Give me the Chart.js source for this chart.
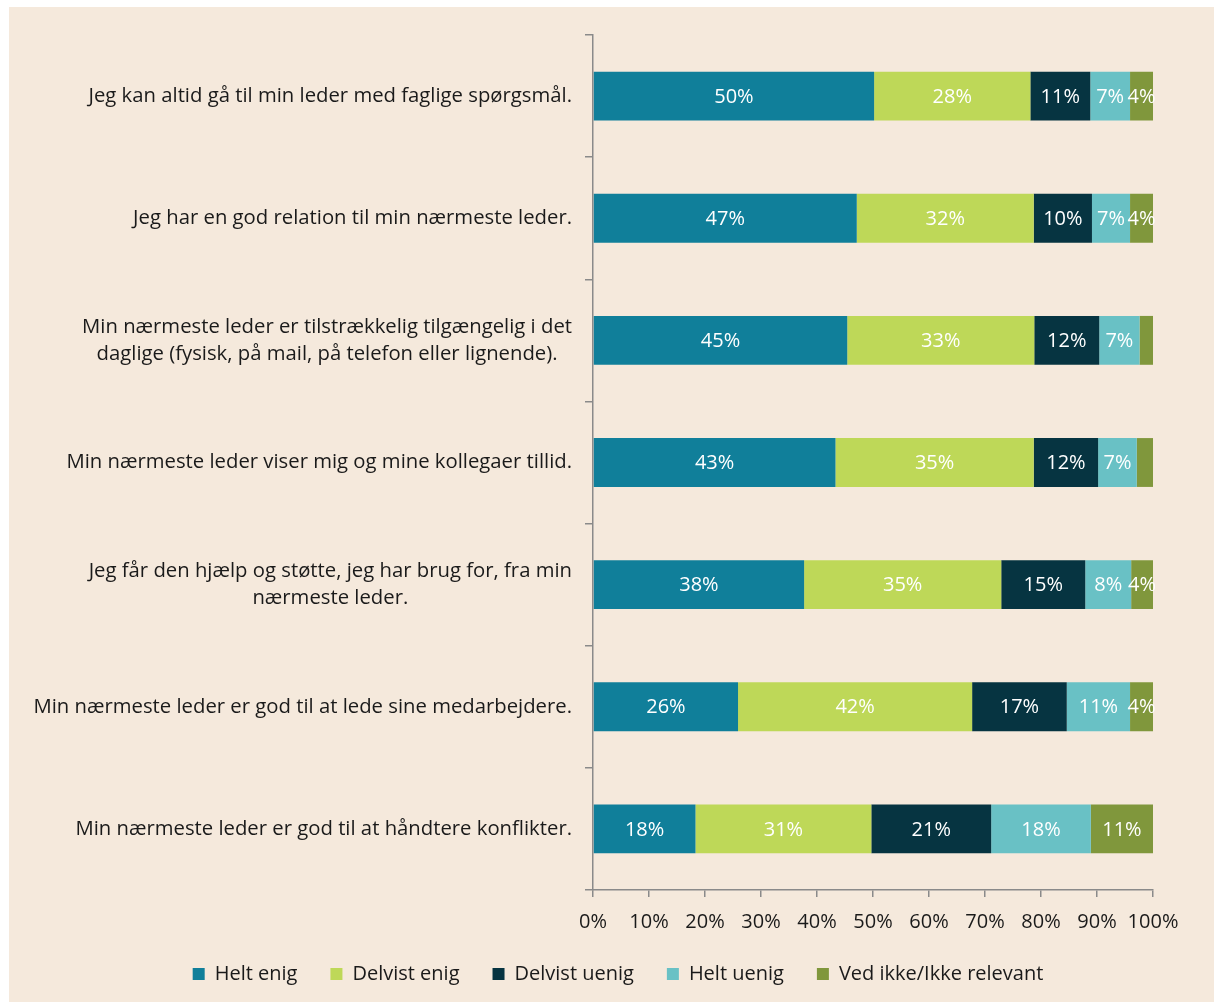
<!DOCTYPE html>
<html>
<head>
<meta charset="utf-8">
<script src="https://cdn.jsdelivr.net/npm/chart.js@4.4.0/dist/chart.umd.min.js"></script>
<style>
  html, body { margin: 0; padding: 0; background: #fff; }
  .frame { position: absolute; left: 9px; top: 7px; width: 1205px; height: 995px; background: #f5e9dc; }
</style>
</head>
<body>
<div class="frame"><canvas id="myChart" width="1205" height="995"></canvas></div>
<script>
// ------------------   DATA   ----------------
const categories = [
  ['Jeg kan altid gå til min leder med faglige spørgsmål.'],
  ['Jeg har en god relation til min nærmeste leder.'],
  ['Min nærmeste leder er tilstrækkelig tilgængelig i det', 'daglige (fysisk, på mail, på telefon eller lignende).'],
  ['Min nærmeste leder viser mig og mine kollegaer tillid.'],
  ['Jeg får den hjælp og støtte, jeg har brug for, fra min', 'nærmeste leder.'],
  ['Min nærmeste leder er god til at lede sine medarbejdere.'],
  ['Min nærmeste leder er god til at håndtere konflikter.'],
];
const seriesNames = ['Helt enig', 'Delvist enig', 'Delvist uenig', 'Helt uenig', 'Ved ikke/Ikke relevant'];
const heltEnig = [50.2, 47.1, 45.4, 43.3, 37.7, 25.9, 18.3];
const delvistEnig = [27.9, 31.6, 33.4, 35.4, 35.2, 41.8, 31.4];
const delvistUenig = [10.7, 10.4, 11.6, 11.5, 15.0, 16.9, 21.4];
const heltUenig = [7.1, 6.8, 7.2, 6.9, 8.2, 11.3, 17.8];
const vedIkke = [4.1, 4.1, 2.4, 2.9, 3.9, 4.1, 11.1];
const xTickValues = [0, 10, 20, 30, 40, 50, 60, 70, 80, 90, 100];

const colors = ['#107f9a', '#bed858', '#063441', '#69c1c5', '#80973c'];
const FONT = "'Open Sans', sans-serif";
const textColor = '#1a1a1a';
const axisColor = '#8a8a8a';

// ------------   PLUGINS   ----------------------
// y labels: block right-aligned to the axis, lines centered inside the block
const yLabelsPlugin = {
  id: 'yLabels',
  afterDraw(chart) {
    const { ctx } = chart;
    const yScale = chart.scales.y;
    ctx.save();
    ctx.font = '20.3px ' + FONT;
    ctx.fillStyle = textColor;
    ctx.textAlign = 'center';
    ctx.textBaseline = 'middle';
    const lineH = 27;
    const right = yScale.right - 21;
    categories.forEach((lines, i) => {
      const yc = yScale.getPixelForValue(i);
      const w = Math.max(...lines.map((l) => ctx.measureText(l).width));
      const xc = right - w / 2;
      const y0 = yc - ((lines.length - 1) * lineH) / 2;
      lines.forEach((l, j) => ctx.fillText(l, xc, y0 + j * lineH));
    });
    ctx.restore();
  },
};

// value labels inside the segments
const barLabelsPlugin = {
  id: 'barLabels',
  afterDatasetsDraw(chart) {
    const { ctx } = chart;
    ctx.save();
    ctx.font = '20px ' + FONT;
    ctx.fillStyle = '#ffffff';
    ctx.textAlign = 'center';
    ctx.textBaseline = 'middle';
    chart.data.datasets.forEach((ds, di) => {
      const meta = chart.getDatasetMeta(di);
      meta.data.forEach((bar, i) => {
        const v = ds.data[i];
        if (v < 3) return;
        const { x, base, y } = bar.getProps(['x', 'base', 'y'], true);
        ctx.fillText(Math.round(v) + '%', (x + base) / 2, y + 1);
      });
    });
    ctx.restore();
  },
};

// ------------   CHART   ----------------------
const ctx = document.getElementById('myChart').getContext('2d');
const seriesData = [heltEnig, delvistEnig, delvistUenig, heltUenig, vedIkke];

const myChart = new Chart(ctx, {
  type: 'bar',
  data: {
    labels: categories,
    datasets: seriesNames.map((name, i) => ({
      label: name,
      data: seriesData[i],
      backgroundColor: colors[i],
      borderWidth: 0,
      barPercentage: 0.4,
      categoryPercentage: 1,
    })),
  },
  options: {
    indexAxis: 'y',
    responsive: false,
    animation: false,
    layout: { padding: { left: 74, right: 61, top: 28, bottom: 8 } },
    scales: {
      x: {
        stacked: true,
        min: 0,
        max: 100,
        afterBuildTicks: (scale) => {
          scale.ticks = xTickValues.map((v) => ({ value: v }));
        },
        afterFit: (scale) => {
          scale.height = 41;
        },
        grid: { drawOnChartArea: false, drawTicks: true, tickLength: 7, color: axisColor, lineWidth: 1.5 },
        border: { display: true, color: axisColor, width: 1.5 },
        ticks: {
          color: textColor,
          font: { family: FONT, size: 20 },
          padding: 13,
          maxRotation: 0,
          callback: (v) => v + '%',
        },
      },
      y: {
        stacked: true,
        afterFit: (scale) => {
          scale.width = 510;
        },
        grid: { drawOnChartArea: false, drawTicks: true, tickLength: 8, color: axisColor, lineWidth: 1.5, offset: true },
        border: { display: true, color: axisColor, width: 1.5 },
        ticks: { display: false },
      },
    },
    plugins: {
      legend: {
        position: 'bottom',
        labels: {
          color: textColor,
          font: { family: FONT, size: 20 },
          boxWidth: 12,
          boxHeight: 12,
          padding: 33,
        },
      },
      tooltip: { enabled: false },
    },
  },
  plugins: [yLabelsPlugin, barLabelsPlugin],
});
</script>
</body>
</html>
